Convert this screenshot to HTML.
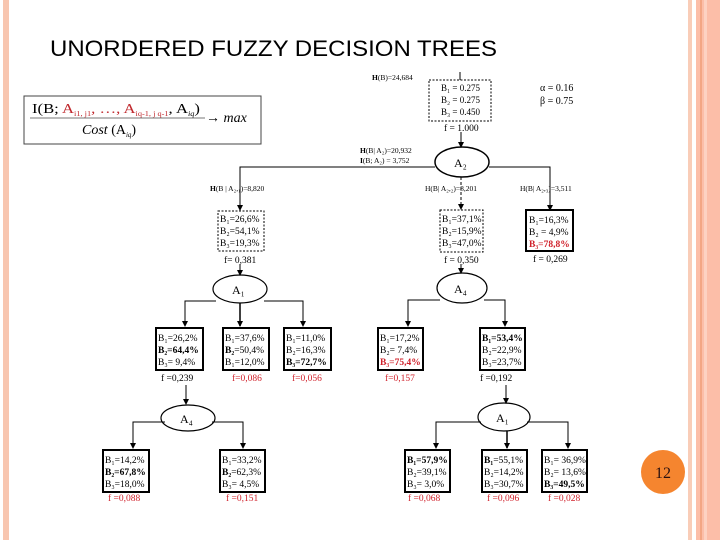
<!DOCTYPE html>
<html><head><meta charset="utf-8"><style>
body{margin:0;width:720px;height:540px;overflow:hidden;background:#fff;position:relative}
svg{position:absolute;left:0;top:0}
</style></head><body>
<svg width="720" height="540" viewBox="0 0 720 540" font-family="'Liberation Serif',serif" font-size="8.5">
<defs><marker id="a" markerWidth="6" markerHeight="6" refX="5" refY="3" orient="auto" markerUnits="userSpaceOnUse"><path d="M0,0 L6,3 L0,6z" fill="#000"/></marker></defs>
<rect x="3" y="0" width="6" height="540" fill="#f8c6b0"/>
<rect x="688" y="0" width="4" height="540" fill="#f9cdb8"/>
<rect x="696" y="0" width="24" height="540" fill="#fcbea8"/>
<rect x="700" y="0" width="2" height="540" fill="#f3a684"/>
<rect x="704" y="0" width="3" height="540" fill="#fdd2c2"/>
<text x="50" y="56" font-family="'Liberation Sans',sans-serif" font-size="22" textLength="447" lengthAdjust="spacingAndGlyphs">UNORDERED FUZZY DECISION TREES</text>
<rect x="24" y="96" width="237" height="48" fill="none" stroke="#444"/>
<text x="32" y="113" font-size="14" textLength="168" lengthAdjust="spacingAndGlyphs">I(B; <tspan fill="#c0282d">A<tspan font-size="7" dy="3">i1, j1</tspan><tspan dy="-3">, …, A</tspan><tspan font-size="7" dy="3">iq-1, j q-1</tspan></tspan><tspan dy="-3">, A</tspan><tspan font-size="7" dy="3" font-style="italic">iq</tspan><tspan dy="-3">)</tspan></text>
<line x1="30" y1="118" x2="205" y2="118" stroke="#777"/>
<text x="82" y="134" font-size="14"><tspan font-style="italic">Cost</tspan> (A<tspan font-size="7" dy="3" font-style="italic">iq</tspan><tspan dy="-3">)</tspan></text>
<text x="206" y="122" font-size="14">→ <tspan font-style="italic">max</tspan></text>
<text x="540" y="91" font-size="10">α = 0.16</text>
<text x="540" y="104" font-size="10">β = 0.75</text>
<g stroke="#000" fill="none">
<line x1="460" y1="72" x2="460" y2="80"/>
<rect x="429" y="80" width="62" height="41" stroke-dasharray="2,1.5"/>
<line x1="461" y1="132" x2="461" y2="147" marker-end="url(#a)"/>
<ellipse cx="462" cy="162" rx="27" ry="15" stroke-width="1.5"/>
<polyline points="435,167 240,167 240,210" marker-end="url(#a)"/>
<polyline points="489,167 550,167 550,210" marker-end="url(#a)"/>
<line x1="461" y1="177" x2="461" y2="209" stroke-dasharray="3,2" marker-end="url(#a)"/>
<rect x="218" y="211" width="46" height="40" stroke-dasharray="2,1.5"/>
<rect x="440" y="210" width="43" height="42" stroke-dasharray="2,1.5"/>
<rect x="526" y="210" width="47" height="41" stroke-width="2"/>
<line x1="240" y1="264" x2="240" y2="275" marker-end="url(#a)"/>
<line x1="461" y1="264" x2="461" y2="273" marker-end="url(#a)"/>
<ellipse cx="240" cy="289" rx="27" ry="14" stroke-width="1.2"/>
<polyline points="216,301 185,301 185,326" marker-end="url(#a)"/>
<polyline points="264,301 303,301 303,326" marker-end="url(#a)"/>
<line x1="240" y1="303" x2="240" y2="326" marker-end="url(#a)" stroke-width="1.5"/>
<ellipse cx="462" cy="288" rx="25" ry="15" stroke-width="1.2"/>
<polyline points="440,300 408,300 408,326" marker-end="url(#a)"/>
<polyline points="484,300 505,300 505,326" marker-end="url(#a)"/>
<rect x="156" y="328" width="47" height="42" stroke-width="2"/>
<rect x="223" y="328" width="46" height="42" stroke-width="2"/>
<rect x="284" y="328" width="47" height="42" stroke-width="2"/>
<rect x="378" y="328" width="45" height="42" stroke-width="2"/>
<rect x="480" y="328" width="45" height="42" stroke-width="2"/>
<line x1="186" y1="385" x2="186" y2="404" marker-end="url(#a)"/>
<line x1="506" y1="385" x2="506" y2="403" marker-end="url(#a)"/>
<ellipse cx="188" cy="418" rx="27" ry="13" stroke-width="1.2"/>
<polyline points="165,422 133,422 133,448" marker-end="url(#a)"/>
<polyline points="212,422 243,422 243,448" marker-end="url(#a)"/>
<ellipse cx="504" cy="417" rx="26" ry="14" stroke-width="1.2"/>
<polyline points="481,422 436,422 436,448" marker-end="url(#a)"/>
<polyline points="527,422 568,422 568,448" marker-end="url(#a)"/>
<line x1="507" y1="431" x2="507" y2="448" marker-end="url(#a)" stroke-width="1.5"/>
<rect x="103" y="450" width="46" height="42" stroke-width="2"/>
<rect x="220" y="450" width="45" height="42" stroke-width="2"/>
<rect x="405" y="450" width="45" height="42" stroke-width="2"/>
<rect x="482" y="450" width="45" height="42" stroke-width="2"/>
<rect x="542" y="450" width="45" height="42" stroke-width="2"/>
</g>
<g font-size="12"><text x="454" y="167">A₂</text><text x="232" y="294">A₁</text><text x="454" y="293">A₄</text><text x="180" y="423">A₄</text><text x="496" y="422">A₁</text></g>
<g font-size="7.5">
<text x="372" y="80"><tspan font-weight="bold">H</tspan>(B)=24,684</text>
<text x="360" y="153"><tspan font-weight="bold">H</tspan>(B| A₂)=20,932</text>
<text x="360" y="163"><tspan font-weight="bold">I</tspan>(B; A₂) =  3,752</text>
<text x="210" y="191"><tspan font-weight="bold">H</tspan>(B | A₂,₁)=8,820</text>
<text x="425" y="191">H(B| A₂,₂)=8,201</text>
<text x="520" y="191">H(B| A₂,₃)=3,511</text>
</g>
<g font-size="9.5">
<text x="441" y="91" font-size="9">B₁ = 0.275</text><text x="441" y="103" font-size="9">B₂ = 0.275</text><text x="441" y="115" font-size="9">B₃ = 0.450</text>
<text x="444" y="131">f = 1.000</text>
<text x="220" y="222">B₁=26,6%</text><text x="220" y="234">B₂=54,1%</text><text x="220" y="246">B₃=19,3%</text>
<text x="442" y="222">B₁=37,1%</text><text x="442" y="234">B₂=15,9%</text><text x="442" y="246">B₃=47,0%</text>
<text x="529" y="223">B₁=16,3%</text><text x="529" y="235">B₂ = 4,9%</text><text x="529" y="247" fill="#d0202a" font-weight="bold">B₃=78,8%</text>
<text x="224" y="263">f= 0,381</text><text x="444" y="263">f = 0,350</text><text x="533" y="262">f = 0,269</text>
<text x="158" y="341">B₁=26,2%</text><text x="158" y="353" font-weight="bold">B₂=64,4%</text><text x="158" y="365">B₃= 9,4%</text>
<text x="225" y="341">B₁=37,6%</text><text x="225" y="353"><tspan font-weight="bold">B₂</tspan>=50,4%</text><text x="225" y="365">B₁=12,0%</text>
<text x="286" y="341">B₁=11,0%</text><text x="286" y="353">B₂=16,3%</text><text x="286" y="365" font-weight="bold">B₃=72,7%</text>
<text x="380" y="341">B₁=17,2%</text><text x="380" y="353">B₂= 7,4%</text><text x="380" y="365" fill="#d0202a" font-weight="bold">B₃=75,4%</text>
<text x="482" y="341" font-weight="bold">B₁=53,4%</text><text x="482" y="353">B₂=22,9%</text><text x="482" y="365">B₃=23,7%</text>
<text x="161" y="381">f =0,239</text><text x="232" y="381" fill="#d0202a">f=0,086</text><text x="292" y="381" fill="#d0202a">f=0,056</text>
<text x="385" y="381" fill="#d0202a">f=0,157</text><text x="480" y="381">f =0,192</text>
<text x="105" y="463">B₁=14,2%</text><text x="105" y="475" font-weight="bold">B₂=67,8%</text><text x="105" y="487">B₃=18,0%</text>
<text x="222" y="463">B₁=33,2%</text><text x="222" y="475"><tspan font-weight="bold">B₂</tspan>=62,3%</text><text x="222" y="487">B₃= 4,5%</text>
<text x="407" y="463" font-weight="bold">B₁=57,9%</text><text x="407" y="475">B₂=39,1%</text><text x="407" y="487">B₃= 3,0%</text>
<text x="484" y="463"><tspan font-weight="bold">B₁</tspan>=55,1%</text><text x="484" y="475">B₂=14,2%</text><text x="484" y="487">B₃=30,7%</text>
<text x="544" y="463">B₁= 36,9%</text><text x="544" y="475">B₂= 13,6%</text><text x="544" y="487" font-weight="bold">B₃=49,5%</text>
<g fill="#d0202a"><text x="108" y="501">f =0,088</text><text x="226" y="501">f =0,151</text><text x="408" y="501">f =0,068</text><text x="487" y="501">f =0,096</text><text x="548" y="501">f =0,028</text></g>
</g>
<circle cx="663" cy="472" r="22" fill="#f5852f"/>
<text x="663" y="478" text-anchor="middle" font-size="16" fill="#2a1010">12</text>
</svg>
</body></html>
